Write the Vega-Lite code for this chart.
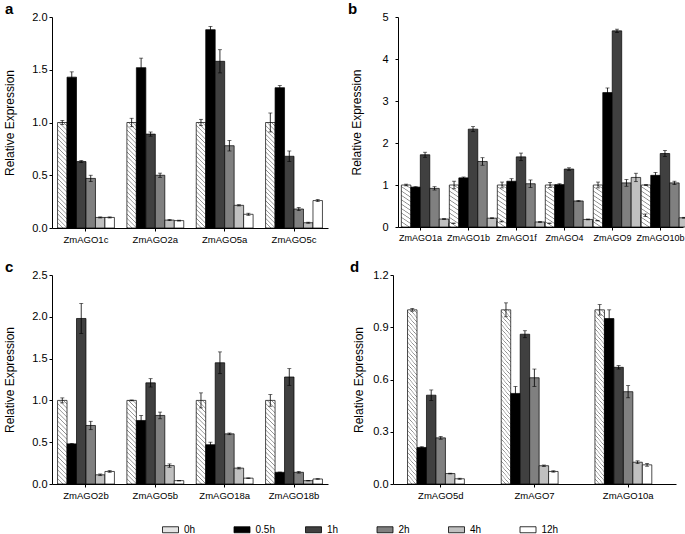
{
  "$schema": "https://vega.github.io/schema/vega-lite/v6.json",
  "padding": {"left": 3, "top": 2, "right": 0, "bottom": 0},
  "background": "white",
  "datasets": {
    "a": [
      {"g": "ZmAGO1c", "t": "0h", "v": 1.00, "lo": 0.98, "hi": 1.02},
      {"g": "ZmAGO1c", "t": "0.5h", "v": 1.43, "lo": 1.38, "hi": 1.48},
      {"g": "ZmAGO1c", "t": "1h", "v": 0.63, "lo": 0.62, "hi": 0.64},
      {"g": "ZmAGO1c", "t": "2h", "v": 0.47, "lo": 0.44, "hi": 0.50},
      {"g": "ZmAGO1c", "t": "4h", "v": 0.10, "lo": 0.095, "hi": 0.105},
      {"g": "ZmAGO1c", "t": "12h", "v": 0.10, "lo": 0.095, "hi": 0.105},
      {"g": "ZmAGO2a", "t": "0h", "v": 1.00, "lo": 0.96, "hi": 1.04},
      {"g": "ZmAGO2a", "t": "0.5h", "v": 1.52, "lo": 1.43, "hi": 1.61},
      {"g": "ZmAGO2a", "t": "1h", "v": 0.89, "lo": 0.87, "hi": 0.91},
      {"g": "ZmAGO2a", "t": "2h", "v": 0.50, "lo": 0.48, "hi": 0.52},
      {"g": "ZmAGO2a", "t": "4h", "v": 0.075, "lo": 0.07, "hi": 0.08},
      {"g": "ZmAGO2a", "t": "12h", "v": 0.07, "lo": 0.066, "hi": 0.074},
      {"g": "ZmAGO5a", "t": "0h", "v": 1.00, "lo": 0.97, "hi": 1.03},
      {"g": "ZmAGO5a", "t": "0.5h", "v": 1.88, "lo": 1.85, "hi": 1.91},
      {"g": "ZmAGO5a", "t": "1h", "v": 1.58, "lo": 1.47, "hi": 1.69},
      {"g": "ZmAGO5a", "t": "2h", "v": 0.78, "lo": 0.73, "hi": 0.83},
      {"g": "ZmAGO5a", "t": "4h", "v": 0.215, "lo": 0.209, "hi": 0.221},
      {"g": "ZmAGO5a", "t": "12h", "v": 0.13, "lo": 0.12, "hi": 0.14},
      {"g": "ZmAGO5c", "t": "0h", "v": 1.00, "lo": 0.91, "hi": 1.09},
      {"g": "ZmAGO5c", "t": "0.5h", "v": 1.33, "lo": 1.31, "hi": 1.35},
      {"g": "ZmAGO5c", "t": "1h", "v": 0.68, "lo": 0.63, "hi": 0.73},
      {"g": "ZmAGO5c", "t": "2h", "v": 0.18, "lo": 0.165, "hi": 0.195},
      {"g": "ZmAGO5c", "t": "4h", "v": 0.05, "lo": 0.045, "hi": 0.055},
      {"g": "ZmAGO5c", "t": "12h", "v": 0.26, "lo": 0.25, "hi": 0.27}
    ],
    "b": [
      {"g": "ZmAGO1a", "t": "0h", "v": 1.0, "lo": 0.98, "hi": 1.02},
      {"g": "ZmAGO1a", "t": "0.5h", "v": 0.95, "lo": 0.94, "hi": 0.96},
      {"g": "ZmAGO1a", "t": "1h", "v": 1.72, "lo": 1.66, "hi": 1.78},
      {"g": "ZmAGO1a", "t": "2h", "v": 0.92, "lo": 0.88, "hi": 0.96},
      {"g": "ZmAGO1a", "t": "4h", "v": 0.19, "lo": 0.18, "hi": 0.20},
      {"g": "ZmAGO1a", "t": "12h", "v": 0.09, "lo": 0.085, "hi": 0.095},
      {"g": "ZmAGO1b", "t": "0h", "v": 1.0, "lo": 0.91, "hi": 1.09},
      {"g": "ZmAGO1b", "t": "0.5h", "v": 1.17, "lo": 1.15, "hi": 1.19},
      {"g": "ZmAGO1b", "t": "1h", "v": 2.33, "lo": 2.27, "hi": 2.39},
      {"g": "ZmAGO1b", "t": "2h", "v": 1.56, "lo": 1.47, "hi": 1.65},
      {"g": "ZmAGO1b", "t": "4h", "v": 0.21, "lo": 0.20, "hi": 0.22},
      {"g": "ZmAGO1b", "t": "12h", "v": 0.13, "lo": 0.12, "hi": 0.14},
      {"g": "ZmAGO1f", "t": "0h", "v": 1.0, "lo": 0.93, "hi": 1.07},
      {"g": "ZmAGO1f", "t": "0.5h", "v": 1.09, "lo": 1.03, "hi": 1.15},
      {"g": "ZmAGO1f", "t": "1h", "v": 1.67, "lo": 1.58, "hi": 1.76},
      {"g": "ZmAGO1f", "t": "2h", "v": 1.03, "lo": 0.94, "hi": 1.12},
      {"g": "ZmAGO1f", "t": "4h", "v": 0.12, "lo": 0.11, "hi": 0.13},
      {"g": "ZmAGO1f", "t": "12h", "v": 0.09, "lo": 0.085, "hi": 0.095},
      {"g": "ZmAGO4", "t": "0h", "v": 1.0, "lo": 0.94, "hi": 1.06},
      {"g": "ZmAGO4", "t": "0.5h", "v": 1.01, "lo": 0.99, "hi": 1.03},
      {"g": "ZmAGO4", "t": "1h", "v": 1.38, "lo": 1.35, "hi": 1.41},
      {"g": "ZmAGO4", "t": "2h", "v": 0.62, "lo": 0.61, "hi": 0.63},
      {"g": "ZmAGO4", "t": "4h", "v": 0.18, "lo": 0.17, "hi": 0.19},
      {"g": "ZmAGO4", "t": "12h", "v": 0.15, "lo": 0.145, "hi": 0.155},
      {"g": "ZmAGO9", "t": "0h", "v": 1.0, "lo": 0.93, "hi": 1.07},
      {"g": "ZmAGO9", "t": "0.5h", "v": 3.2, "lo": 3.09, "hi": 3.31},
      {"g": "ZmAGO9", "t": "1h", "v": 4.67, "lo": 4.63, "hi": 4.71},
      {"g": "ZmAGO9", "t": "2h", "v": 1.05, "lo": 0.97, "hi": 1.13},
      {"g": "ZmAGO9", "t": "4h", "v": 1.18, "lo": 1.08, "hi": 1.28},
      {"g": "ZmAGO9", "t": "12h", "v": 0.28, "lo": 0.25, "hi": 0.31},
      {"g": "ZmAGO10b", "t": "0h", "v": 1.0, "lo": 0.99, "hi": 1.01},
      {"g": "ZmAGO10b", "t": "0.5h", "v": 1.23, "lo": 1.16, "hi": 1.30},
      {"g": "ZmAGO10b", "t": "1h", "v": 1.75, "lo": 1.68, "hi": 1.82},
      {"g": "ZmAGO10b", "t": "2h", "v": 1.05, "lo": 1.01, "hi": 1.09},
      {"g": "ZmAGO10b", "t": "4h", "v": 0.22, "lo": 0.21, "hi": 0.23},
      {"g": "ZmAGO10b", "t": "12h", "v": 0.16, "lo": 0.155, "hi": 0.165}
    ],
    "c": [
      {"g": "ZmAGO2b", "t": "0h", "v": 1.0, "lo": 0.97, "hi": 1.03},
      {"g": "ZmAGO2b", "t": "0.5h", "v": 0.48, "lo": 0.475, "hi": 0.485},
      {"g": "ZmAGO2b", "t": "1h", "v": 1.98, "lo": 1.80, "hi": 2.16},
      {"g": "ZmAGO2b", "t": "2h", "v": 0.70, "lo": 0.65, "hi": 0.75},
      {"g": "ZmAGO2b", "t": "4h", "v": 0.11, "lo": 0.10, "hi": 0.12},
      {"g": "ZmAGO2b", "t": "12h", "v": 0.15, "lo": 0.14, "hi": 0.16},
      {"g": "ZmAGO5b", "t": "0h", "v": 1.0, "lo": 0.995, "hi": 1.005},
      {"g": "ZmAGO5b", "t": "0.5h", "v": 0.76, "lo": 0.70, "hi": 0.82},
      {"g": "ZmAGO5b", "t": "1h", "v": 1.21, "lo": 1.16, "hi": 1.26},
      {"g": "ZmAGO5b", "t": "2h", "v": 0.82, "lo": 0.78, "hi": 0.86},
      {"g": "ZmAGO5b", "t": "4h", "v": 0.22, "lo": 0.20, "hi": 0.24},
      {"g": "ZmAGO5b", "t": "12h", "v": 0.04, "lo": 0.037, "hi": 0.043},
      {"g": "ZmAGO18a", "t": "0h", "v": 1.0, "lo": 0.91, "hi": 1.09},
      {"g": "ZmAGO18a", "t": "0.5h", "v": 0.47, "lo": 0.44, "hi": 0.50},
      {"g": "ZmAGO18a", "t": "1h", "v": 1.45, "lo": 1.32, "hi": 1.58},
      {"g": "ZmAGO18a", "t": "2h", "v": 0.60, "lo": 0.59, "hi": 0.61},
      {"g": "ZmAGO18a", "t": "4h", "v": 0.19, "lo": 0.18, "hi": 0.20},
      {"g": "ZmAGO18a", "t": "12h", "v": 0.07, "lo": 0.067, "hi": 0.073},
      {"g": "ZmAGO18b", "t": "0h", "v": 1.0, "lo": 0.93, "hi": 1.07},
      {"g": "ZmAGO18b", "t": "0.5h", "v": 0.14, "lo": 0.137, "hi": 0.143},
      {"g": "ZmAGO18b", "t": "1h", "v": 1.28, "lo": 1.18, "hi": 1.38},
      {"g": "ZmAGO18b", "t": "2h", "v": 0.14, "lo": 0.13, "hi": 0.15},
      {"g": "ZmAGO18b", "t": "4h", "v": 0.04, "lo": 0.037, "hi": 0.043},
      {"g": "ZmAGO18b", "t": "12h", "v": 0.06, "lo": 0.057, "hi": 0.063}
    ],
    "d": [
      {"g": "ZmAGO5d", "t": "0h", "v": 1.0, "lo": 0.992, "hi": 1.008},
      {"g": "ZmAGO5d", "t": "0.5h", "v": 0.21, "lo": 0.206, "hi": 0.214},
      {"g": "ZmAGO5d", "t": "1h", "v": 0.51, "lo": 0.48, "hi": 0.54},
      {"g": "ZmAGO5d", "t": "2h", "v": 0.265, "lo": 0.257, "hi": 0.273},
      {"g": "ZmAGO5d", "t": "4h", "v": 0.06, "lo": 0.058, "hi": 0.062},
      {"g": "ZmAGO5d", "t": "12h", "v": 0.03, "lo": 0.027, "hi": 0.033},
      {"g": "ZmAGO7", "t": "0h", "v": 1.0, "lo": 0.96, "hi": 1.04},
      {"g": "ZmAGO7", "t": "0.5h", "v": 0.52, "lo": 0.48, "hi": 0.56},
      {"g": "ZmAGO7", "t": "1h", "v": 0.86, "lo": 0.84, "hi": 0.88},
      {"g": "ZmAGO7", "t": "2h", "v": 0.61, "lo": 0.56, "hi": 0.66},
      {"g": "ZmAGO7", "t": "4h", "v": 0.105, "lo": 0.101, "hi": 0.109},
      {"g": "ZmAGO7", "t": "12h", "v": 0.072, "lo": 0.068, "hi": 0.076},
      {"g": "ZmAGO10a", "t": "0h", "v": 1.0, "lo": 0.97, "hi": 1.03},
      {"g": "ZmAGO10a", "t": "0.5h", "v": 0.95, "lo": 0.90, "hi": 1.00},
      {"g": "ZmAGO10a", "t": "1h", "v": 0.67, "lo": 0.66, "hi": 0.68},
      {"g": "ZmAGO10a", "t": "2h", "v": 0.53, "lo": 0.495, "hi": 0.565},
      {"g": "ZmAGO10a", "t": "4h", "v": 0.125, "lo": 0.117, "hi": 0.133},
      {"g": "ZmAGO10a", "t": "12h", "v": 0.11, "lo": 0.102, "hi": 0.118}
    ]
  },
  "vconcat": [
    {
      "bounds": "flush",
      "spacing": 70,
      "hconcat": [
        {
          "width": 276, "height": 211,
          "title": {"text": "a", "anchor": "start", "frame": "group", "dx": -47, "offset": -6, "fontSize": 15, "fontWeight": "bold", "font": "Liberation Sans"},
          "data": {"name": "a"},
          "encoding": {
            "x": {"field": "g", "type": "nominal", "sort": null, "scale": {"paddingInner": 0.18, "paddingOuter": 0.08}, "axis": {"title": null}},
            "xOffset": {"field": "t", "type": "nominal", "scale": {"domain": ["0h", "0.5h", "1h", "2h", "4h", "12h"], "paddingInner": 0, "paddingOuter": 0}}
          },
          "layer": [
            {"mark": {"type": "bar", "stroke": "#000", "strokeWidth": 0.7},
             "encoding": {
               "y": {"field": "v", "type": "quantitative", "scale": {"domain": [0, 2]}, "axis": {"title": "Relative Expression", "values": [0, 0.5, 1, 1.5, 2], "format": ".1f", "titleX": -36}},
               "fill": {
                 "condition": {"test": "datum.t === '0h'", "value": {"gradient": "linear", "x1": 1, "y1": 0, "x2": 0.90296, "y2": 1.08106, "stops": [
                   {"offset": 0.02308, "color": "#fff"}, {"offset": 0.03077, "color": "#888"}, {"offset": 0.03846, "color": "#fff"},
                   {"offset": 0.06154, "color": "#fff"}, {"offset": 0.06923, "color": "#888"}, {"offset": 0.07692, "color": "#fff"},
                   {"offset": 0.1, "color": "#fff"}, {"offset": 0.10769, "color": "#888"}, {"offset": 0.11538, "color": "#fff"},
                   {"offset": 0.13846, "color": "#fff"}, {"offset": 0.14615, "color": "#888"}, {"offset": 0.15385, "color": "#fff"},
                   {"offset": 0.17692, "color": "#fff"}, {"offset": 0.18462, "color": "#888"}, {"offset": 0.19231, "color": "#fff"},
                   {"offset": 0.21538, "color": "#fff"}, {"offset": 0.22308, "color": "#888"}, {"offset": 0.23077, "color": "#fff"},
                   {"offset": 0.25385, "color": "#fff"}, {"offset": 0.26154, "color": "#888"}, {"offset": 0.26923, "color": "#fff"},
                   {"offset": 0.29231, "color": "#fff"}, {"offset": 0.3, "color": "#888"}, {"offset": 0.30769, "color": "#fff"},
                   {"offset": 0.33077, "color": "#fff"}, {"offset": 0.33846, "color": "#888"}, {"offset": 0.34615, "color": "#fff"},
                   {"offset": 0.36923, "color": "#fff"}, {"offset": 0.37692, "color": "#888"}, {"offset": 0.38462, "color": "#fff"},
                   {"offset": 0.40769, "color": "#fff"}, {"offset": 0.41538, "color": "#888"}, {"offset": 0.42308, "color": "#fff"},
                   {"offset": 0.44615, "color": "#fff"}, {"offset": 0.45385, "color": "#888"}, {"offset": 0.46154, "color": "#fff"},
                   {"offset": 0.48462, "color": "#fff"}, {"offset": 0.49231, "color": "#888"}, {"offset": 0.5, "color": "#fff"},
                   {"offset": 0.52308, "color": "#fff"}, {"offset": 0.53077, "color": "#888"}, {"offset": 0.53846, "color": "#fff"},
                   {"offset": 0.56154, "color": "#fff"}, {"offset": 0.56923, "color": "#888"}, {"offset": 0.57692, "color": "#fff"},
                   {"offset": 0.6, "color": "#fff"}, {"offset": 0.60769, "color": "#888"}, {"offset": 0.61538, "color": "#fff"},
                   {"offset": 0.63846, "color": "#fff"}, {"offset": 0.64615, "color": "#888"}, {"offset": 0.65385, "color": "#fff"},
                   {"offset": 0.67692, "color": "#fff"}, {"offset": 0.68462, "color": "#888"}, {"offset": 0.69231, "color": "#fff"},
                   {"offset": 0.71538, "color": "#fff"}, {"offset": 0.72308, "color": "#888"}, {"offset": 0.73077, "color": "#fff"},
                   {"offset": 0.75385, "color": "#fff"}, {"offset": 0.76154, "color": "#888"}, {"offset": 0.76923, "color": "#fff"},
                   {"offset": 0.79231, "color": "#fff"}, {"offset": 0.8, "color": "#888"}, {"offset": 0.80769, "color": "#fff"},
                   {"offset": 0.83077, "color": "#fff"}, {"offset": 0.83846, "color": "#888"}, {"offset": 0.84615, "color": "#fff"},
                   {"offset": 0.86923, "color": "#fff"}, {"offset": 0.87692, "color": "#888"}, {"offset": 0.88462, "color": "#fff"},
                   {"offset": 0.90769, "color": "#fff"}, {"offset": 0.91538, "color": "#888"}, {"offset": 0.92308, "color": "#fff"},
                   {"offset": 0.94615, "color": "#fff"}, {"offset": 0.95385, "color": "#888"}, {"offset": 0.96154, "color": "#fff"},
                   {"offset": 0.98462, "color": "#fff"}, {"offset": 0.99231, "color": "#888"}, {"offset": 1.0, "color": "#fff"}]}},
                 "field": "t", "type": "nominal",
                 "scale": {"domain": ["0h", "0.5h", "1h", "2h", "4h", "12h"], "range": ["#e4e4e4", "#000000", "#404040", "#808080", "#c0c0c0", "#ffffff"]},
                 "legend": {"orient": "none", "legendX": 110, "legendY": 504, "direction": "horizontal", "title": null, "columns": 6, "gridAlign": "all", "columnPadding": 27.5, "symbolType": "M-1,-0.375H1V0.375H-1Z", "symbolSize": 256, "symbolStrokeColor": "#000", "symbolStrokeWidth": 0.8, "labelFontSize": 10, "labelOffset": 5, "labelFont": "Liberation Sans",
                   "encode": {"symbols": {"update": {
                     "stroke": {"value": "#000"},
                     "strokeWidth": {"value": 0.8},
                     "fill": [
                     {"test": "datum.value === '0h'", "value": {"gradient": "linear", "x1": 1, "y1": 0, "x2": -0.2055, "y2": 0.452, "stops": [
                       {"offset": 0.16667, "color": "#fff"}, {"offset": 0.25, "color": "#444"}, {"offset": 0.33333, "color": "#fff"},
                       {"offset": 0.5, "color": "#fff"}, {"offset": 0.58333, "color": "#444"}, {"offset": 0.66667, "color": "#fff"},
                       {"offset": 0.83333, "color": "#fff"}, {"offset": 0.91667, "color": "#444"}, {"offset": 1.0, "color": "#fff"}]}},
                     {"scale": "fill", "field": "value"}]}}}}}}},
            {"mark": {"type": "rule", "color": "#000", "strokeWidth": 0.8},
             "encoding": {"y": {"field": "lo", "type": "quantitative", "scale": {"domain": [0, 2]}, "axis": {"title": "Relative Expression", "values": [0, 0.5, 1, 1.5, 2], "format": ".1f", "titleX": -36}}, "y2": {"field": "hi"}}},
            {"mark": {"type": "tick", "orient": "horizontal", "size": 4, "thickness": 0.8, "color": "#000"},
             "encoding": {"y": {"field": "lo", "type": "quantitative", "scale": {"domain": [0, 2]}, "axis": {"title": "Relative Expression", "values": [0, 0.5, 1, 1.5, 2], "format": ".1f", "titleX": -36}}}},
            {"mark": {"type": "tick", "orient": "horizontal", "size": 4, "thickness": 0.8, "color": "#000"},
             "encoding": {"y": {"field": "hi", "type": "quantitative", "scale": {"domain": [0, 2]}, "axis": {"title": "Relative Expression", "values": [0, 0.5, 1, 1.5, 2], "format": ".1f", "titleX": -36}}}}
          ]
        },
        {
          "width": 285, "height": 210,
          "title": {"text": "b", "anchor": "start", "frame": "group", "dx": -50, "offset": -6, "fontSize": 15, "fontWeight": "bold", "font": "Liberation Sans"},
          "data": {"name": "b"},
          "encoding": {
            "x": {"field": "g", "type": "nominal", "sort": null, "scale": {"paddingInner": 0.2, "paddingOuter": 0.07}, "axis": {"title": null, "labelFontSize": 9}},
            "xOffset": {"field": "t", "type": "nominal", "scale": {"domain": ["0h", "0.5h", "1h", "2h", "4h", "12h"], "paddingInner": 0, "paddingOuter": 0}}
          },
          "layer": [
            {"mark": {"type": "bar", "stroke": "#000", "strokeWidth": 0.7},
             "encoding": {
               "y": {"field": "v", "type": "quantitative", "scale": {"domain": [0, 5]}, "axis": {"title": "Relative Expression", "values": [0, 1, 2, 3, 4, 5], "format": "d", "titleX": -35, "labelPadding": 7}},
               "fill": {
                 "condition": {"test": "datum.t === '0h'", "value": {"gradient": "linear", "x1": 1, "y1": 0, "x2": 0.8304, "y2": 1.1252, "stops": [
                   {"offset": 0.05455, "color": "#fff"}, {"offset": 0.07273, "color": "#888"}, {"offset": 0.09091, "color": "#fff"},
                   {"offset": 0.14545, "color": "#fff"}, {"offset": 0.16364, "color": "#888"}, {"offset": 0.18182, "color": "#fff"},
                   {"offset": 0.23636, "color": "#fff"}, {"offset": 0.25455, "color": "#888"}, {"offset": 0.27273, "color": "#fff"},
                   {"offset": 0.32727, "color": "#fff"}, {"offset": 0.34545, "color": "#888"}, {"offset": 0.36364, "color": "#fff"},
                   {"offset": 0.41818, "color": "#fff"}, {"offset": 0.43636, "color": "#888"}, {"offset": 0.45455, "color": "#fff"},
                   {"offset": 0.50909, "color": "#fff"}, {"offset": 0.52727, "color": "#888"}, {"offset": 0.54545, "color": "#fff"},
                   {"offset": 0.6, "color": "#fff"}, {"offset": 0.61818, "color": "#888"}, {"offset": 0.63636, "color": "#fff"},
                   {"offset": 0.69091, "color": "#fff"}, {"offset": 0.70909, "color": "#888"}, {"offset": 0.72727, "color": "#fff"},
                   {"offset": 0.78182, "color": "#fff"}, {"offset": 0.8, "color": "#888"}, {"offset": 0.81818, "color": "#fff"},
                   {"offset": 0.87273, "color": "#fff"}, {"offset": 0.89091, "color": "#888"}, {"offset": 0.90909, "color": "#fff"},
                   {"offset": 0.96364, "color": "#fff"}, {"offset": 0.98182, "color": "#888"}, {"offset": 1.0, "color": "#fff"}]}},
                 "field": "t", "type": "nominal"}}},
            {"mark": {"type": "rule", "color": "#000", "strokeWidth": 0.8},
             "encoding": {"y": {"field": "lo", "type": "quantitative", "scale": {"domain": [0, 5]}, "axis": {"title": "Relative Expression", "values": [0, 1, 2, 3, 4, 5], "format": "d", "titleX": -35, "labelPadding": 7}}, "y2": {"field": "hi"}}},
            {"mark": {"type": "tick", "orient": "horizontal", "size": 4, "thickness": 0.8, "color": "#000"},
             "encoding": {"y": {"field": "lo", "type": "quantitative", "scale": {"domain": [0, 5]}, "axis": {"title": "Relative Expression", "values": [0, 1, 2, 3, 4, 5], "format": "d", "titleX": -35, "labelPadding": 7}}}},
            {"mark": {"type": "tick", "orient": "horizontal", "size": 4, "thickness": 0.8, "color": "#000"},
             "encoding": {"y": {"field": "hi", "type": "quantitative", "scale": {"domain": [0, 5]}, "axis": {"title": "Relative Expression", "values": [0, 1, 2, 3, 4, 5], "format": "d", "titleX": -35, "labelPadding": 7}}}}
          ]
        }
      ]
    },
    {
      "bounds": "flush",
      "spacing": 65,
      "hconcat": [
        {
          "width": 276, "height": 209,
          "title": {"text": "c", "anchor": "start", "frame": "group", "dx": -47, "offset": -6, "fontSize": 15, "fontWeight": "bold", "font": "Liberation Sans"},
          "data": {"name": "c"},
          "encoding": {
            "x": {"field": "g", "type": "nominal", "sort": null, "scale": {"paddingInner": 0.18, "paddingOuter": 0.08}, "axis": {"title": null}},
            "xOffset": {"field": "t", "type": "nominal", "scale": {"domain": ["0h", "0.5h", "1h", "2h", "4h", "12h"], "paddingInner": 0, "paddingOuter": 0}}
          },
          "layer": [
            {"mark": {"type": "bar", "stroke": "#000", "strokeWidth": 0.7},
             "encoding": {
               "y": {"field": "v", "type": "quantitative", "scale": {"domain": [0, 2.5]}, "axis": {"title": "Relative Expression", "values": [0, 0.5, 1, 1.5, 2, 2.5], "format": ".1f", "titleX": -36}},
               "fill": {
                 "condition": {"test": "datum.t === '0h'", "value": {"gradient": "linear", "x1": 1, "y1": 0, "x2": 0.8755, "y2": 1.0992, "stops": [
                   {"offset": 0.02857, "color": "#fff"}, {"offset": 0.0381, "color": "#888"}, {"offset": 0.04762, "color": "#fff"},
                   {"offset": 0.07619, "color": "#fff"}, {"offset": 0.08571, "color": "#888"}, {"offset": 0.09524, "color": "#fff"},
                   {"offset": 0.12381, "color": "#fff"}, {"offset": 0.13333, "color": "#888"}, {"offset": 0.14286, "color": "#fff"},
                   {"offset": 0.17143, "color": "#fff"}, {"offset": 0.18095, "color": "#888"}, {"offset": 0.19048, "color": "#fff"},
                   {"offset": 0.21905, "color": "#fff"}, {"offset": 0.22857, "color": "#888"}, {"offset": 0.2381, "color": "#fff"},
                   {"offset": 0.26667, "color": "#fff"}, {"offset": 0.27619, "color": "#888"}, {"offset": 0.28571, "color": "#fff"},
                   {"offset": 0.31429, "color": "#fff"}, {"offset": 0.32381, "color": "#888"}, {"offset": 0.33333, "color": "#fff"},
                   {"offset": 0.3619, "color": "#fff"}, {"offset": 0.37143, "color": "#888"}, {"offset": 0.38095, "color": "#fff"},
                   {"offset": 0.40952, "color": "#fff"}, {"offset": 0.41905, "color": "#888"}, {"offset": 0.42857, "color": "#fff"},
                   {"offset": 0.45714, "color": "#fff"}, {"offset": 0.46667, "color": "#888"}, {"offset": 0.47619, "color": "#fff"},
                   {"offset": 0.50476, "color": "#fff"}, {"offset": 0.51429, "color": "#888"}, {"offset": 0.52381, "color": "#fff"},
                   {"offset": 0.55238, "color": "#fff"}, {"offset": 0.5619, "color": "#888"}, {"offset": 0.57143, "color": "#fff"},
                   {"offset": 0.6, "color": "#fff"}, {"offset": 0.60952, "color": "#888"}, {"offset": 0.61905, "color": "#fff"},
                   {"offset": 0.64762, "color": "#fff"}, {"offset": 0.65714, "color": "#888"}, {"offset": 0.66667, "color": "#fff"},
                   {"offset": 0.69524, "color": "#fff"}, {"offset": 0.70476, "color": "#888"}, {"offset": 0.71429, "color": "#fff"},
                   {"offset": 0.74286, "color": "#fff"}, {"offset": 0.75238, "color": "#888"}, {"offset": 0.7619, "color": "#fff"},
                   {"offset": 0.79048, "color": "#fff"}, {"offset": 0.8, "color": "#888"}, {"offset": 0.80952, "color": "#fff"},
                   {"offset": 0.8381, "color": "#fff"}, {"offset": 0.84762, "color": "#888"}, {"offset": 0.85714, "color": "#fff"},
                   {"offset": 0.88571, "color": "#fff"}, {"offset": 0.89524, "color": "#888"}, {"offset": 0.90476, "color": "#fff"},
                   {"offset": 0.93333, "color": "#fff"}, {"offset": 0.94286, "color": "#888"}, {"offset": 0.95238, "color": "#fff"},
                   {"offset": 0.98095, "color": "#fff"}, {"offset": 0.99048, "color": "#888"}, {"offset": 1.0, "color": "#fff"}]}},
                 "field": "t", "type": "nominal"}}},
            {"mark": {"type": "rule", "color": "#000", "strokeWidth": 0.8},
             "encoding": {"y": {"field": "lo", "type": "quantitative", "scale": {"domain": [0, 2.5]}, "axis": {"title": "Relative Expression", "values": [0, 0.5, 1, 1.5, 2, 2.5], "format": ".1f", "titleX": -36}}, "y2": {"field": "hi"}}},
            {"mark": {"type": "tick", "orient": "horizontal", "size": 4, "thickness": 0.8, "color": "#000"},
             "encoding": {"y": {"field": "lo", "type": "quantitative", "scale": {"domain": [0, 2.5]}, "axis": {"title": "Relative Expression", "values": [0, 0.5, 1, 1.5, 2, 2.5], "format": ".1f", "titleX": -36}}}},
            {"mark": {"type": "tick", "orient": "horizontal", "size": 4, "thickness": 0.8, "color": "#000"},
             "encoding": {"y": {"field": "hi", "type": "quantitative", "scale": {"domain": [0, 2.5]}, "axis": {"title": "Relative Expression", "values": [0, 0.5, 1, 1.5, 2, 2.5], "format": ".1f", "titleX": -36}}}}
          ]
        },
        {
          "width": 283, "height": 209,
          "title": {"text": "d", "anchor": "start", "frame": "group", "dx": -43, "offset": -6, "fontSize": 15, "fontWeight": "bold", "font": "Liberation Sans"},
          "data": {"name": "d"},
          "encoding": {
            "x": {"field": "g", "type": "nominal", "sort": null, "scale": {"paddingInner": 0.29, "paddingOuter": 0.155}, "axis": {"title": null}},
            "xOffset": {"field": "t", "type": "nominal", "scale": {"domain": ["0h", "0.5h", "1h", "2h", "4h", "12h"], "paddingInner": 0, "paddingOuter": 0}}
          },
          "layer": [
            {"mark": {"type": "bar", "stroke": "#000", "strokeWidth": 0.7},
             "encoding": {
               "y": {"field": "v", "type": "quantitative", "scale": {"domain": [0, 1.2]}, "axis": {"title": "Relative Expression", "values": [0, 0.3, 0.6, 0.9, 1.2], "format": ".1f", "titleX": -28}},
               "fill": {
                 "condition": {"test": "datum.t === '0h'", "value": {"gradient": "linear", "x1": 1, "y1": 0, "x2": 0.9325, "y2": 1.0594, "stops": [
                   {"offset": 0.01429, "color": "#fff"}, {"offset": 0.01905, "color": "#888"}, {"offset": 0.02381, "color": "#fff"},
                   {"offset": 0.0381, "color": "#fff"}, {"offset": 0.04286, "color": "#888"}, {"offset": 0.04762, "color": "#fff"},
                   {"offset": 0.0619, "color": "#fff"}, {"offset": 0.06667, "color": "#888"}, {"offset": 0.07143, "color": "#fff"},
                   {"offset": 0.08571, "color": "#fff"}, {"offset": 0.09048, "color": "#888"}, {"offset": 0.09524, "color": "#fff"},
                   {"offset": 0.10952, "color": "#fff"}, {"offset": 0.11429, "color": "#888"}, {"offset": 0.11905, "color": "#fff"},
                   {"offset": 0.13333, "color": "#fff"}, {"offset": 0.1381, "color": "#888"}, {"offset": 0.14286, "color": "#fff"},
                   {"offset": 0.15714, "color": "#fff"}, {"offset": 0.1619, "color": "#888"}, {"offset": 0.16667, "color": "#fff"},
                   {"offset": 0.18095, "color": "#fff"}, {"offset": 0.18571, "color": "#888"}, {"offset": 0.19048, "color": "#fff"},
                   {"offset": 0.20476, "color": "#fff"}, {"offset": 0.20952, "color": "#888"}, {"offset": 0.21429, "color": "#fff"},
                   {"offset": 0.22857, "color": "#fff"}, {"offset": 0.23333, "color": "#888"}, {"offset": 0.2381, "color": "#fff"},
                   {"offset": 0.25238, "color": "#fff"}, {"offset": 0.25714, "color": "#888"}, {"offset": 0.2619, "color": "#fff"},
                   {"offset": 0.27619, "color": "#fff"}, {"offset": 0.28095, "color": "#888"}, {"offset": 0.28571, "color": "#fff"},
                   {"offset": 0.3, "color": "#fff"}, {"offset": 0.30476, "color": "#888"}, {"offset": 0.30952, "color": "#fff"},
                   {"offset": 0.32381, "color": "#fff"}, {"offset": 0.32857, "color": "#888"}, {"offset": 0.33333, "color": "#fff"},
                   {"offset": 0.34762, "color": "#fff"}, {"offset": 0.35238, "color": "#888"}, {"offset": 0.35714, "color": "#fff"},
                   {"offset": 0.37143, "color": "#fff"}, {"offset": 0.37619, "color": "#888"}, {"offset": 0.38095, "color": "#fff"},
                   {"offset": 0.39524, "color": "#fff"}, {"offset": 0.4, "color": "#888"}, {"offset": 0.40476, "color": "#fff"},
                   {"offset": 0.41905, "color": "#fff"}, {"offset": 0.42381, "color": "#888"}, {"offset": 0.42857, "color": "#fff"},
                   {"offset": 0.44286, "color": "#fff"}, {"offset": 0.44762, "color": "#888"}, {"offset": 0.45238, "color": "#fff"},
                   {"offset": 0.46667, "color": "#fff"}, {"offset": 0.47143, "color": "#888"}, {"offset": 0.47619, "color": "#fff"},
                   {"offset": 0.49048, "color": "#fff"}, {"offset": 0.49524, "color": "#888"}, {"offset": 0.5, "color": "#fff"},
                   {"offset": 0.51429, "color": "#fff"}, {"offset": 0.51905, "color": "#888"}, {"offset": 0.52381, "color": "#fff"},
                   {"offset": 0.5381, "color": "#fff"}, {"offset": 0.54286, "color": "#888"}, {"offset": 0.54762, "color": "#fff"},
                   {"offset": 0.5619, "color": "#fff"}, {"offset": 0.56667, "color": "#888"}, {"offset": 0.57143, "color": "#fff"},
                   {"offset": 0.58571, "color": "#fff"}, {"offset": 0.59048, "color": "#888"}, {"offset": 0.59524, "color": "#fff"},
                   {"offset": 0.60952, "color": "#fff"}, {"offset": 0.61429, "color": "#888"}, {"offset": 0.61905, "color": "#fff"},
                   {"offset": 0.63333, "color": "#fff"}, {"offset": 0.6381, "color": "#888"}, {"offset": 0.64286, "color": "#fff"},
                   {"offset": 0.65714, "color": "#fff"}, {"offset": 0.6619, "color": "#888"}, {"offset": 0.66667, "color": "#fff"},
                   {"offset": 0.68095, "color": "#fff"}, {"offset": 0.68571, "color": "#888"}, {"offset": 0.69048, "color": "#fff"},
                   {"offset": 0.70476, "color": "#fff"}, {"offset": 0.70952, "color": "#888"}, {"offset": 0.71429, "color": "#fff"},
                   {"offset": 0.72857, "color": "#fff"}, {"offset": 0.73333, "color": "#888"}, {"offset": 0.7381, "color": "#fff"},
                   {"offset": 0.75238, "color": "#fff"}, {"offset": 0.75714, "color": "#888"}, {"offset": 0.7619, "color": "#fff"},
                   {"offset": 0.77619, "color": "#fff"}, {"offset": 0.78095, "color": "#888"}, {"offset": 0.78571, "color": "#fff"},
                   {"offset": 0.8, "color": "#fff"}, {"offset": 0.80476, "color": "#888"}, {"offset": 0.80952, "color": "#fff"},
                   {"offset": 0.82381, "color": "#fff"}, {"offset": 0.82857, "color": "#888"}, {"offset": 0.83333, "color": "#fff"},
                   {"offset": 0.84762, "color": "#fff"}, {"offset": 0.85238, "color": "#888"}, {"offset": 0.85714, "color": "#fff"},
                   {"offset": 0.87143, "color": "#fff"}, {"offset": 0.87619, "color": "#888"}, {"offset": 0.88095, "color": "#fff"},
                   {"offset": 0.89524, "color": "#fff"}, {"offset": 0.9, "color": "#888"}, {"offset": 0.90476, "color": "#fff"},
                   {"offset": 0.91905, "color": "#fff"}, {"offset": 0.92381, "color": "#888"}, {"offset": 0.92857, "color": "#fff"},
                   {"offset": 0.94286, "color": "#fff"}, {"offset": 0.94762, "color": "#888"}, {"offset": 0.95238, "color": "#fff"},
                   {"offset": 0.96667, "color": "#fff"}, {"offset": 0.97143, "color": "#888"}, {"offset": 0.97619, "color": "#fff"},
                   {"offset": 0.99048, "color": "#fff"}, {"offset": 0.99524, "color": "#888"}, {"offset": 1.0, "color": "#fff"}]}},
                 "field": "t", "type": "nominal"}}},
            {"mark": {"type": "rule", "color": "#000", "strokeWidth": 0.8},
             "encoding": {"y": {"field": "lo", "type": "quantitative", "scale": {"domain": [0, 1.2]}, "axis": {"title": "Relative Expression", "values": [0, 0.3, 0.6, 0.9, 1.2], "format": ".1f", "titleX": -28}}, "y2": {"field": "hi"}}},
            {"mark": {"type": "tick", "orient": "horizontal", "size": 4, "thickness": 0.8, "color": "#000"},
             "encoding": {"y": {"field": "lo", "type": "quantitative", "scale": {"domain": [0, 1.2]}, "axis": {"title": "Relative Expression", "values": [0, 0.3, 0.6, 0.9, 1.2], "format": ".1f", "titleX": -28}}}},
            {"mark": {"type": "tick", "orient": "horizontal", "size": 4, "thickness": 0.8, "color": "#000"},
             "encoding": {"y": {"field": "hi", "type": "quantitative", "scale": {"domain": [0, 1.2]}, "axis": {"title": "Relative Expression", "values": [0, 0.3, 0.6, 0.9, 1.2], "format": ".1f", "titleX": -28}}}}
          ]
        }
      ]
    }
  ],
  "spacing": 16,
  "config": {
    "font": "Liberation Sans",
    "view": {"stroke": null},
    "axis": {"domainColor": "#000", "tickColor": "#000", "labelColor": "#000", "titleColor": "#000", "grid": false, "tickSize": 3, "labelFont": "Liberation Sans", "titleFont": "Liberation Sans", "titleFontWeight": "normal", "domainWidth": 1, "tickWidth": 1, "domain": true},
    "axisY": {"labelFontSize": 11, "titleFontSize": 12, "labelPadding": 2},
    "axisX": {"labelFontSize": 9.5, "labelAngle": 0, "bandPosition": 0.5, "labelPadding": 3}
  }
}
